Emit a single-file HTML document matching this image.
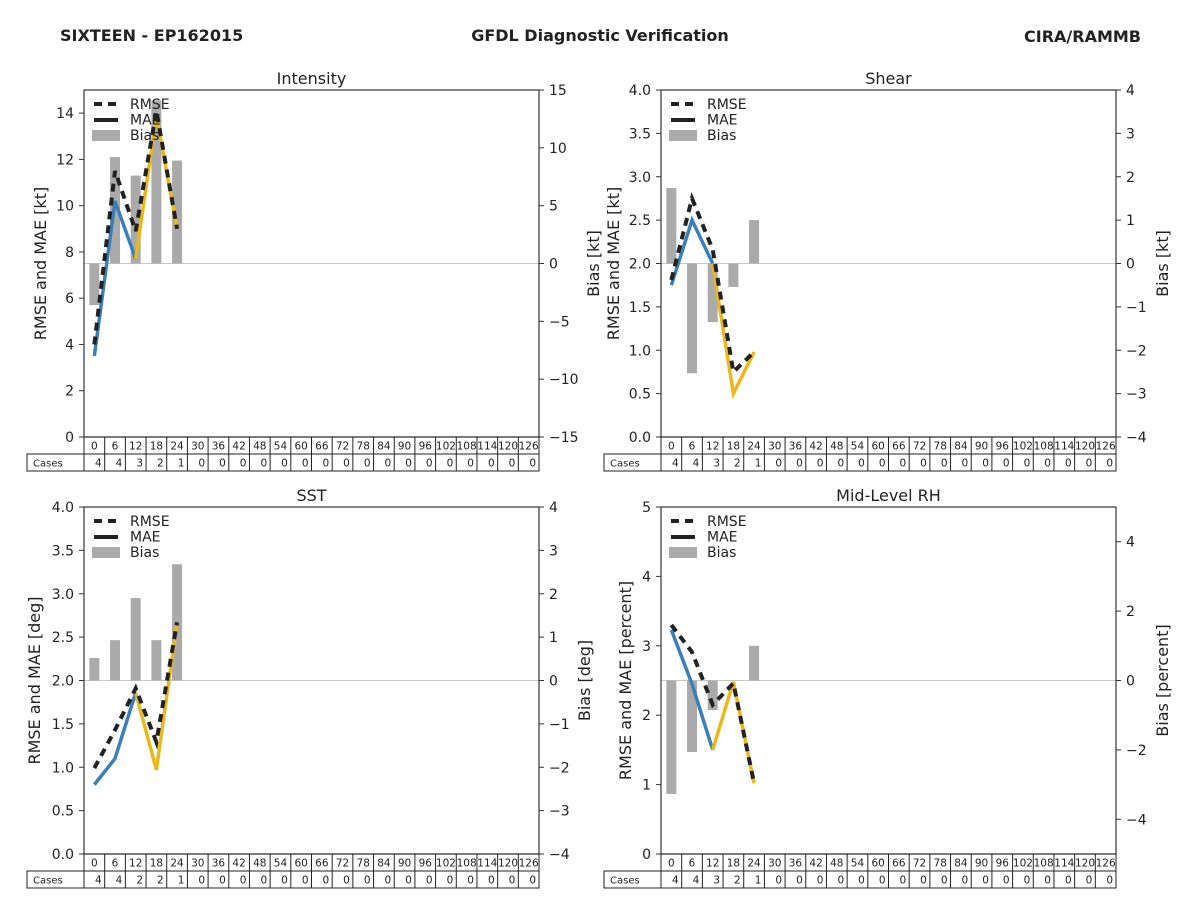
<!DOCTYPE html>
<html><head><meta charset="utf-8"><style>
body{margin:0;background:#fff;}
svg{display:block;font-family:"DejaVu Sans","Liberation Sans",sans-serif;}
</style></head><body>
<svg id="chart" width="1200" height="900" viewBox="0 0 1200 900">
<text x="60" y="41" font-size="16" font-weight="bold" fill="#222">SIXTEEN - EP162015</text>
<text x="600" y="41" font-size="16" font-weight="bold" fill="#222" text-anchor="middle">GFDL Diagnostic Verification</text>
<text x="1141" y="42" font-size="16" font-weight="bold" fill="#222" text-anchor="end">CIRA/RAMMB</text>
</svg>
<script>
const hours=[0,6,12,18,24,30,36,42,48,54,60,66,72,78,84,90,96,102,108,114,120,126];
const intRmse=[4.0,11.5,8.9,14.1,9.0];
const intMae=[3.5,10.2,7.7,13.9,9.0];
const intBias=[-3.6,9.2,7.6,14.1,8.9];
const intCases=[4,4,3,2,1];
const shRmse=[1.81,2.75,2.16,0.75,0.98];
const shMae=[1.75,2.5,2.0,0.5,0.98];
const shBias=[1.74,-2.53,-1.35,-0.54,1.0];
const shCases=[4,4,3,2,1];
const sstRmse=[0.99,1.43,1.91,1.29,2.67];
const sstMae=[0.8,1.1,1.86,0.97,2.67];
const sstBias=[0.52,0.93,1.9,0.93,2.68];
const sstCases=[4,4,2,2,1];
const rhRmse=[3.3,2.91,2.15,2.46,1.02];
const rhMae=[3.23,2.45,1.5,2.48,1.02];
const rhBias=[-3.27,-2.06,-0.85,0,1.0];
const rhCases=[4,4,3,2,1];
const leftTicksA=[0,2,4,6,8,10,12,14];
const rightTicksA=[-15,-10,-5,0,5,10,15];
const leftTicksB=[0,0.5,1,1.5,2,2.5,3,3.5,4];
const rightTicksB=[-4,-3,-2,-1,0,1,2,3,4];
const leftTicksC=[0,1,2,3,4,5];
const rightTicksC=[-4,-2,0,2,4];

const NS="http://www.w3.org/2000/svg";
const svg=document.getElementById('chart');
function mk(tag,attrs,parent,txt){const e=document.createElementNS(NS,tag);for(const k in attrs)e.setAttribute(k,attrs[k]);if(txt!==undefined)e.textContent=txt;(parent||svg).appendChild(e);return e;}

function panel(p){
  const g=mk('g',{});
  
  
  const L=p.x,T=p.y,W=455,H=347,R=L+W,B=T+H;
  const n=hours.length,cw=W/n;
  const xs=i=>L+cw*(i+0.5);
  const yl=v=>B-(v-p.lmin)/(p.lmax-p.lmin)*H;
  const yr=v=>B-(v-p.rmin)/(p.rmax-p.rmin)*H;
  // zero line
  const z=mk('line',{x1:L,x2:R,y1:yr(0),y2:yr(0),stroke:'#c8c8c8','stroke-width':1},g);
  
  
  // bias bars
  p.bias.forEach((v,i)=>{
    const y0=yr(0),y1=yr(v);
    const b=mk('rect',{x:xs(i)-5,y:Math.min(y0,y1),width:10,height:Math.abs(y1-y0),fill:'#aaaaaa'},g);
    
    
  });
  // MAE lines: blue first 3 pts, yellow from index 2
  const pts=(arr,a,bb)=>arr.slice(a,bb).map((v,j)=>xs(j+a)+','+yl(v)).join(' ');
  const m1=mk('polyline',{points:pts(p.mae,0,3),fill:'none',stroke:'#3a7fb8','stroke-width':3.5},g);
  
  
  const m2=mk('polyline',{points:pts(p.mae,2,p.mae.length),fill:'none',stroke:'#ebb81a','stroke-width':3.5},g);
  
  
  const r=mk('polyline',{points:pts(p.rmse,0,p.rmse.length),fill:'none',stroke:'#222','stroke-width':4,'stroke-dasharray':'8,6'},g);
  
  
  // frame
  const f=mk('rect',{x:L,y:T,width:W,height:H,fill:'none',stroke:'#333','stroke-width':1.2},g);
  
  
  // left ticks
  p.lt.forEach(v=>{
    mk('line',{x1:L-5,x2:L,y1:yl(v),y2:yl(v),stroke:'#333'},g);
    const t=mk('text',{x:L-10,y:yl(v)+5,'font-size':14,fill:'#222','text-anchor':'end'},g,p.lfmt(v));
    
    
  });
  p.rt.forEach(v=>{
    mk('line',{x1:R,x2:R+5,y1:yr(v),y2:yr(v),stroke:'#333'},g);
    const t=mk('text',{x:R+10,y:yr(v)+5,'font-size':14,fill:'#222'},g,v<0?'\u2212'+Math.abs(v):String(v));
    
    
  });
  const ti=mk('text',{x:L+W/2,y:T-6,'font-size':16,fill:'#222','text-anchor':'middle'},g,p.title);
  
  
  const ly=mk('text',{x:0,y:0,'font-size':16,fill:'#222','text-anchor':'middle',transform:`translate(${p.lx},${T+H/2}) rotate(-90)`},g,p.ylab);
  
  
  const ry=mk('text',{x:0,y:0,'font-size':16,fill:'#222','text-anchor':'middle',transform:`translate(${p.rx},${T+H/2}) rotate(-90)`},g,p.rlab);
  
  
  // legend
  const lg=mk('g',{},g);
  
  
  mk('line',{x1:L+10,x2:L+34,y1:T+14,y2:T+14,stroke:'#222','stroke-width':4,'stroke-dasharray':'8,6'},lg);
  mk('line',{x1:L+10,x2:L+34,y1:T+30,y2:T+30,stroke:'#222','stroke-width':4},lg);
  mk('rect',{x:L+8,y:T+40,width:28,height:11,fill:'#aaaaaa'},lg);
  ['RMSE','MAE','Bias'].forEach((s,i)=>{
    const t=mk('text',{x:L+46,y:T+19+i*15.5,'font-size':14,fill:'#222'},lg,s);
    
    
  });
  // table
  const tb=mk('g',{},g);
  
  
  const r1=B,r2=B+17,r3=B+34;
  mk('rect',{x:L,y:r1,width:W,height:17,fill:'none',stroke:'#222'},tb);
  mk('rect',{x:L-57,y:r2,width:W+57,height:17,fill:'none',stroke:'#222'},tb);
  mk('text',{x:L-51,y:r2+12.5,'font-size':10,fill:'#222'},tb,'Cases');
  hours.forEach((h,i)=>{
    const x0=L+cw*i;
    mk('line',{x1:x0,x2:x0,y1:r1,y2:r3,stroke:'#222'},tb);
    mk('text',{x:xs(i),y:r1+12.5,'font-size':10.5,fill:'#222','text-anchor':'middle'},tb,String(h));
    const c=i<p.cases.length?p.cases[i]:0;
    mk('text',{x:x0+cw-3,y:r2+12.5,'font-size':10.5,fill:'#222','text-anchor':'end'},tb,String(c));
  });
}
const f1=v=>v.toFixed(1), f0=v=>String(v);
panel({name:'intensity',x:84,y:90,title:'Intensity',ylab:'RMSE and MAE [kt]',rlab:'Bias [kt]',lx:46,rx:599,lmin:0,lmax:15,rmin:-15,rmax:15,lt:leftTicksA,rt:rightTicksA,lfmt:f0,rmse:intRmse,mae:intMae,bias:intBias,cases:intCases});
panel({name:'shear',x:661,y:90,title:'Shear',ylab:'RMSE and MAE [kt]',rlab:'Bias [kt]',lx:619,rx:1168,lmin:0,lmax:4,rmin:-4,rmax:4,lt:leftTicksB,rt:rightTicksB,lfmt:f1,rmse:shRmse,mae:shMae,bias:shBias,cases:shCases});
panel({name:'sst',x:84,y:507,title:'SST',ylab:'RMSE and MAE [deg]',rlab:'Bias [deg]',lx:40,rx:590,lmin:0,lmax:4,rmin:-4,rmax:4,lt:leftTicksB,rt:rightTicksB,lfmt:f1,rmse:sstRmse,mae:sstMae,bias:sstBias,cases:sstCases});
panel({name:'mid-level-rh',x:661,y:507,title:'Mid-Level RH',ylab:'RMSE and MAE [percent]',rlab:'Bias [percent]',lx:631,rx:1168,lmin:0,lmax:5,rmin:-5,rmax:5,lt:leftTicksC,rt:rightTicksC,lfmt:f0,rmse:rhRmse,mae:rhMae,bias:rhBias,cases:rhCases});
</script>
</body></html>
